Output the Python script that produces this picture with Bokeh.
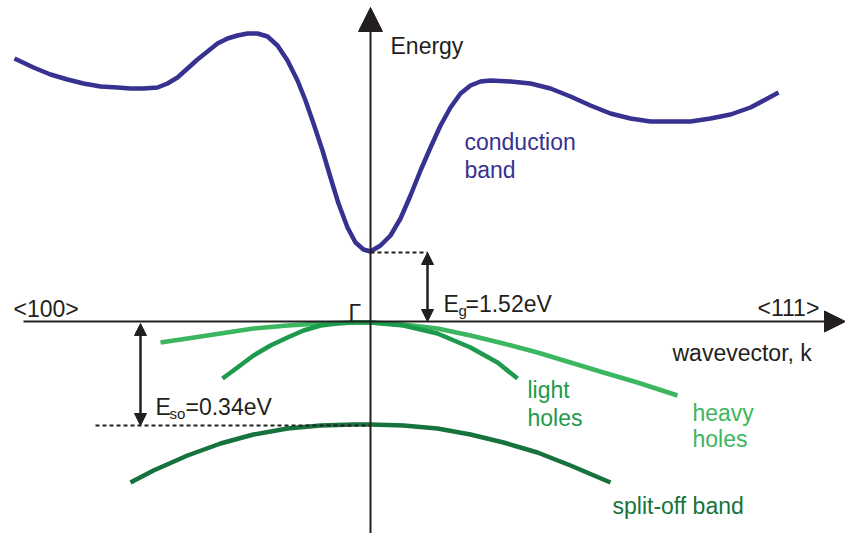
from bokeh.plotting import figure
from bokeh.models import Range1d, Arrow, NormalHead
from bokeh.core.properties import value
from bokeh.embed import file_html
from bokeh.resources import INLINE

# Schematic band structure: k along <100> (left) and <111> (right), Γ at k = 0.
# Energies are in schematic units with the valence-band top at 0.

cond_k = [-356, -337, -320, -303, -287, -270, -253, -240, -227, -213, -203, -193,
          -183, -173, -163, -153, -143, -133, -123, -113, -103, -93, -83, -73,
          -65, -57, -48, -40, -32, -23, -15, -7, 0,
          10, 20, 30, 40, 50, 60, 70, 80, 90, 100, 110, 120, 140, 160, 180, 200,
          220, 240, 260, 280, 300, 320, 340, 360, 380, 397, 408]
cond_E = [263, 254, 247, 242, 238, 235, 234, 233, 233, 234, 238, 244,
          253, 262, 270, 278, 283, 286, 288, 288, 285, 276, 261, 241,
          221, 198, 171, 144, 118, 94, 79, 72, 70,
          76, 86, 103, 126, 151, 174, 196, 214, 228, 236, 240, 241, 240, 238, 233,
          225, 216, 208, 203, 200, 200, 200, 203, 207, 214, 223, 229]

heavy_k = [-210, -183, -150, -117, -83, -50, -17, 0, 33, 67, 100, 133, 167, 200, 233, 267, 307]
heavy_E = [-21, -17, -12, -7, -4, -2, -1, -1, -3, -7, -14, -22, -31, -41, -51, -61, -74]

light_k = [-148, -133, -117, -100, -83, -67, -50, -33, -17, 0, 33, 67, 100, 127, 147]
light_E = [-57, -46, -34, -24, -16, -9, -4, -2, -1, -1, -4, -12, -26, -41, -57]

split_k = [-240, -217, -183, -150, -117, -83, -50, -17, 0, 33, 67, 100, 133, 167, 200, 240]
split_E = [-161, -149, -134, -122, -113, -107, -104, -103, -103, -104, -107, -113, -121, -131, -144, -161]

COND = "#37328f"
HEAVY = "#3db660"
LIGHT = "#1d9a4b"
SPLIT = "#16733d"
INK = "#231f20"
FONT = value("Liberation Sans")

p = figure(width=845, height=533, x_range=Range1d(-370, 475), y_range=Range1d(-212, 321),
           x_axis_type=None, y_axis_type=None, toolbar_location=None,
           output_backend="svg", min_border=0, outline_line_color=None)
p.grid.visible = False
p.background_fill_color = "white"
p.border_fill_color = "white"

# wavevector axis
p.add_layout(Arrow(end=NormalHead(size=21, fill_color=INK, line_color=INK),
                   x_start=-347, y_start=0, x_end=475, y_end=0,
                   line_color=INK, line_width=2))

# bands
p.line(heavy_k, heavy_E, line_color=HEAVY, line_width=4.5, line_join="round")
p.line(light_k, light_E, line_color=LIGHT, line_width=4.5, line_join="round")
p.line(split_k, split_E, line_color=SPLIT, line_width=4.5, line_join="round")
p.line(cond_k, cond_E, line_color=COND, line_width=4.5, line_join="round")

# energy axis
p.add_layout(Arrow(end=NormalHead(size=24, fill_color=INK, line_color=INK),
                   x_start=0, y_start=-212, x_end=0, y_end=314,
                   line_color=INK, line_width=2))

# band gap and spin-orbit splitting markers
cb_min = min(cond_E)
so_top = max(split_E)
p.line([0, 57], [cb_min - 1, cb_min - 1], line_color=INK, line_width=2, line_dash="4 3")
p.line([-275, 0], [so_top - 1, so_top - 1], line_color=INK, line_width=2, line_dash="4 3")

p.add_layout(Arrow(start=NormalHead(size=12, fill_color=INK, line_color=INK),
                   end=NormalHead(size=12, fill_color=INK, line_color=INK),
                   x_start=57, y_start=0, x_end=57, y_end=cb_min - 1,
                   line_color=INK, line_width=2.5))
p.add_layout(Arrow(start=NormalHead(size=12, fill_color=INK, line_color=INK),
                   end=NormalHead(size=12, fill_color=INK, line_color=INK),
                   x_start=-230, y_start=-2, x_end=-230, y_end=so_top - 1,
                   line_color=INK, line_width=2.5))

def label(x, y, txt, color=INK, size="23px"):
    p.text(x=[x], y=[y], text=[txt], text_font=FONT, text_font_size=size,
           text_color=color, text_baseline="alphabetic", text_align="left")

label(20, 276, "Energy")
label(94, 180, "conduction", COND)
label(94, 152, "band", COND)
label(-357, 13, "<100>")
label(-22, 9, "Γ")
label(387, 14, "<111>")
label(302, -31, "wavevector, k")

label(73, 18, "E")
label(88, 11, "g", size="15px")
label(95, 18, "=1.52eV")

label(-215, -85, "E")
label(-201, -92, "so", size="15px")
label(-185, -85, "=0.34eV")

label(157, -68, "light", LIGHT)
label(157, -96, "holes", LIGHT)
label(322, -91, "heavy", HEAVY)
label(322, -117, "holes", HEAVY)
label(242, -184, "split-off band", SPLIT)

open("out.html", "w").write(file_html(p, INLINE))
